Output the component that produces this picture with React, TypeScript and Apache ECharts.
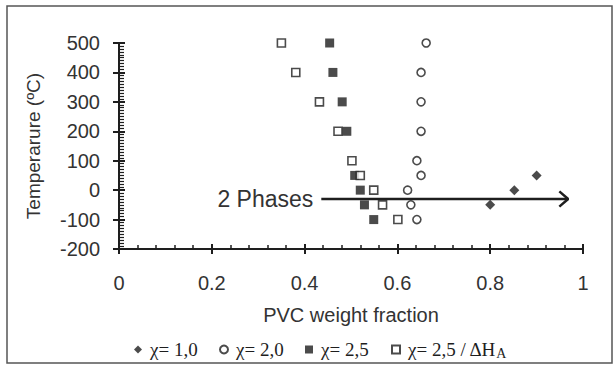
import React, { useEffect, useRef } from "react";
import * as echarts from "echarts";

// χ = 1.0 (filled diamonds)
const chi10X = [0.8, 0.852, 0.9];
const chi10T = [-50, 0, 50];
// χ = 2.0 (open circles)
const chi20X = [0.662, 0.651, 0.651, 0.651, 0.642, 0.651, 0.622, 0.629, 0.642];
const chi20T = [500, 400, 300, 200, 100, 50, 0, -50, -100];
// χ = 2.5 (filled squares)
const chi25X = [0.454, 0.461, 0.481, 0.491, 0.508, 0.52, 0.529, 0.549];
const chi25T = [500, 400, 300, 200, 50, 0, -50, -100];
// χ = 2.5 / ΔH_A (open squares)
const chi25hX = [0.35, 0.381, 0.432, 0.472, 0.502, 0.52, 0.549, 0.568, 0.601];
const chi25hT = [500, 400, 300, 200, 100, 50, 0, -50, -100];
// "2 Phases" arrow
const arrowX = [0.436, 0.968];
const arrowT = [-30, -30];
const arrowHeadX = [0.949, 0.968, 0.949];
const arrowHeadT = [-56, -30, -4];
const arrowText = "2 Phases";

const names = ["χ= 1,0", "χ= 2,0", "χ= 2,5", "χ= 2,5 / ΔH_A"];

const ink = "#1e1e1e";
const sans = "Liberation Sans";
const serif = "Liberation Serif";

const zip = (xs: number[], ys: number[]) => xs.map((x, i) => [x, ys[i]]);

export default function App() {
  const ref = useRef<HTMLDivElement>(null);
  useEffect(() => {
    const chart = echarts.init(ref.current!, null, { renderer: "svg" });
    const legendBase = {
      top: 340,
      padding: 0,
      itemWidth: 8,
      itemHeight: 8,
      itemGap: 0,
      textStyle: { fontFamily: serif, fontSize: 19, color: ink, padding: [0, 0, 0, 3] },
    };
    chart.setOption({
      animation: false,
      backgroundColor: "#fff",
      grid: { left: 119, right: 31, top: 43, bottom: 116, containLabel: false },
      xAxis: [
        {
          type: "value",
          min: 0,
          max: 1,
          interval: 0.2,
          position: "bottom",
          name: "PVC weight fraction",
          nameLocation: "middle",
          nameGap: 56,
          nameTextStyle: { fontFamily: sans, fontSize: 20, color: "#333" },
          axisLine: { show: true, onZero: false, lineStyle: { color: ink, width: 2 } },
          axisTick: { show: true, inside: true, length: 5, lineStyle: { color: ink, width: 2 } },
          minorTick: { show: true, splitNumber: 5, length: 4, lineStyle: { color: ink, width: 1.5 } },
          axisLabel: { fontFamily: sans, fontSize: 20, color: "#333", margin: 24 },
          splitLine: { show: false },
        },
        {
          type: "value",
          min: 0,
          max: 1,
          interval: 0.2,
          position: "bottom",
          offset: 0,
          axisLine: { show: false, onZero: false },
          axisTick: { show: true, inside: false, length: 5, lineStyle: { color: ink, width: 2 } },
          axisLabel: { show: false },
          splitLine: { show: false },
        },
      ],
      yAxis: [
        {
          type: "value",
          min: -200,
          max: 500,
          interval: 100,
          position: "left",
          name: "Temperarure (ºC)",
          nameLocation: "middle",
          nameGap: 76,
          nameTextStyle: { fontFamily: sans, fontSize: 19, color: "#333" },
          axisLine: { show: true, onZero: false, lineStyle: { color: ink, width: 2 } },
          axisTick: { show: true, inside: true, length: 6, lineStyle: { color: ink, width: 2 } },
          minorTick: { show: true, splitNumber: 10, length: 5, lineStyle: { color: ink, width: 1.2 } },
          axisLabel: { fontFamily: sans, fontSize: 20, color: "#333", margin: 19 },
          splitLine: { show: false },
        },
        {
          type: "value",
          min: -200,
          max: 500,
          interval: 100,
          position: "left",
          offset: 0,
          axisLine: { show: false, onZero: false },
          axisTick: { show: true, inside: false, length: 6, lineStyle: { color: ink, width: 2 } },
          axisLabel: { show: false },
          splitLine: { show: false },
        },
      ],
      legend: [
        { ...legendBase, left: 134, data: [names[0]] },
        { ...legendBase, left: 219, data: [names[1]] },
        { ...legendBase, left: 305, data: [names[2]] },
        {
          ...legendBase,
          left: 391,
          data: [names[3]],
          formatter: () => "{t|χ= 2,5 / ΔH}{s|A}",
          textStyle: {
            ...legendBase.textStyle,
            rich: {
              t: { fontFamily: serif, fontSize: 19, color: ink },
              s: { fontFamily: serif, fontSize: 14, color: ink, verticalAlign: "bottom", padding: [7, 0, 0, 0] },
            },
          },
        },
      ],
      series: [
        {
          name: names[0],
          type: "scatter",
          symbol: "diamond",
          symbolSize: 10,
          data: zip(chi10X, chi10T),
          itemStyle: { color: ink },
        },
        {
          name: names[1],
          type: "scatter",
          symbol: "circle",
          symbolSize: 8,
          data: zip(chi20X, chi20T),
          itemStyle: { color: "#fff", borderColor: ink, borderWidth: 1.6 },
        },
        {
          name: names[2],
          type: "scatter",
          symbol: "rect",
          symbolSize: 9,
          data: zip(chi25X, chi25T),
          itemStyle: { color: ink },
        },
        {
          name: names[3],
          type: "scatter",
          symbol: "rect",
          symbolSize: 8,
          data: zip(chi25hX, chi25hT),
          itemStyle: { color: "#fff", borderColor: ink, borderWidth: 1.6 },
        },
        {
          type: "line",
          data: zip(arrowX, arrowT),
          symbol: "none",
          lineStyle: { color: ink, width: 2.5 },
          z: 1,
        },
        {
          type: "line",
          data: zip(arrowHeadX, arrowHeadT),
          symbol: "none",
          lineStyle: { color: ink, width: 2.5 },
          z: 1,
        },
      ],
    });
    const start = chart.convertToPixel({ gridIndex: 0 }, [arrowX[0], arrowT[0]]) as number[];
    chart.setOption({
      graphic: [
        {
          type: "rect",
          shape: { x: 7, y: 6, width: 605, height: 357 },
          style: { fill: "none", stroke: "#555", lineWidth: 1.5 },
          silent: true,
          z: 100,
        },
        {
          type: "text",
          x: start[0] - 8,
          y: start[1],
          style: {
            text: arrowText,
            fontFamily: sans,
            fontSize: 23,
            fill: "#333",
            align: "right",
            verticalAlign: "middle",
          },
          silent: true,
        },
      ],
    });
    return () => chart.dispose();
  }, []);
  return (
    <div
      ref={ref}
      style={{ position: "fixed", left: 0, top: 0, width: 614, height: 365 }}
    />
  );
}
